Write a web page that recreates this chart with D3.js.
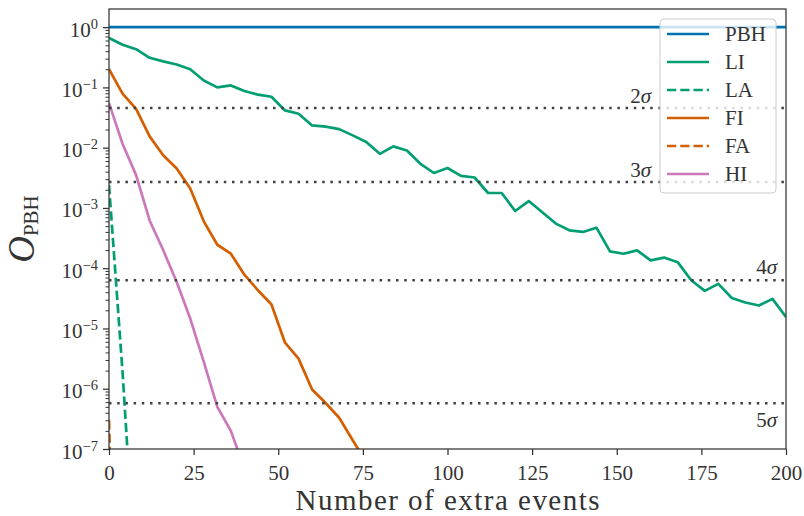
<!DOCTYPE html>
<html>
<head>
<meta charset="utf-8">
<script src="https://cdn.jsdelivr.net/npm/d3@7"></script>
<style>
  body { margin: 0; background: #fff; }
  svg { display: block; }
  svg text { font-family: "Liberation Serif", "DejaVu Serif", serif; }
</style>
</head>
<body>
<div id="chart"></div>
<script>
const events = [0, 4, 8, 12, 16, 20, 24, 28, 32, 36, 40, 44, 48, 52, 56, 60, 64, 68, 72, 76,
  80, 84, 88, 92, 96, 100, 104, 108, 112, 116, 120, 124, 128, 132, 136, 140, 144, 148, 152, 156,
  160, 164, 168, 172, 176, 180, 184, 188, 192, 196, 200];

const pbhEvents = [0, 200];
const pbh = [1, 1];

const li = [0.66, 0.51, 0.43, 0.31, 0.27, 0.24, 0.20, 0.13, 0.10, 0.108,
  0.087, 0.076, 0.070, 0.0415, 0.0366, 0.0234, 0.0223, 0.0203, 0.016, 0.0124,
  0.0079, 0.0105, 0.0090, 0.0054, 0.0038, 0.0046, 0.0034, 0.0032, 0.00177, 0.00177,
  0.00089, 0.0013, 0.00085, 0.00055, 0.000425, 0.00040, 0.00047, 0.00019, 0.000174, 0.000198,
  0.000135, 0.00015, 0.000126, 0.000063, 0.000042, 0.000055, 0.000032, 0.000027, 0.000024, 0.000031,
  0.0000155];

const la = [2.4e-3, 1.9e-6, 5e-10];

const fi = [0.20, 0.079, 0.044, 0.0154, 0.0075, 0.0045, 0.0021, 6.0e-4, 2.45e-4, 1.74e-4,
  7.8e-5, 4.3e-5, 2.5e-5, 5.8e-6, 3.16e-6, 9.7e-7, 5.8e-7, 3.3e-7, 1.4e-7, 6e-8];

const fa = [3e-7, 1e-15];

const hi = [0.055, 0.0116, 0.0035, 6.2e-4, 2.0e-4, 5.9e-5, 1.46e-5, 2.8e-6, 5.0e-7, 2.0e-7, 4.7e-8];

// significance thresholds (two-sided p-values)
const sigmaNames = ["2", "3", "4", "5"];
const sigmaP = [0.0455, 0.0027, 6.334e-5, 5.733e-7];

const xTicks = [0, 25, 50, 75, 100, 125, 150, 175, 200];
const yPowers = [-7, -6, -5, -4, -3, -2, -1, 0];

const series = [
  { name: "PBH", x: pbhEvents, y: pbh, color: "#0173b2", dash: null },
  { name: "LI", x: events, y: li, color: "#029e73", dash: null },
  { name: "LA", x: events, y: la, color: "#029e73", dash: "9.25,4" },
  { name: "FI", x: events, y: fi, color: "#d55e00", dash: null },
  { name: "FA", x: events, y: fa, color: "#d55e00", dash: "9.25,4" },
  { name: "HI", x: events, y: hi, color: "#cc78bc", dash: null }
];

var width = 804;
var height = 516;
var margins = { top: 9, bottom: 67, left: 109, right: 18 };
var axisColor = "#333";
var serif = "Liberation Serif, DejaVu Serif, serif";

const svg = d3.select("#chart")
  .append("svg")
  .attr("width", width)
  .attr("height", height)
  .attr("font-family", serif);

const x = d3.scaleLinear()
  .domain([0, 200])
  .range([margins.left, width - margins.right]);

const y = d3.scaleLog()
  .domain([1e-7, 2])
  .range([height - margins.bottom, margins.top]);

svg.append("clipPath").attr("id", "plot")
  .append("rect")
  .attr("x", x(0)).attr("y", y(2))
  .attr("width", x(200) - x(0)).attr("height", y(1e-7) - y(2));

// curves
const line = d3.line()
  .x(d => x(d[0]))
  .y(d => y(d[1]));

const curves = svg.append("g").attr("clip-path", "url(#plot)");
series.forEach(s => {
  curves.append("path")
    .datum(s.y.map((v, i) => [s.x[i], v]))
    .attr("d", line)
    .attr("fill", "none")
    .attr("stroke", s.color)
    .attr("stroke-width", 2.7)
    .attr("stroke-dasharray", s.dash)
    .attr("stroke-linejoin", "round");
});

// sigma lines
const sig = svg.append("g");
sigmaP.forEach((p, i) => {
  sig.append("line")
    .attr("x1", x(0)).attr("x2", x(200))
    .attr("y1", y(p)).attr("y2", y(p))
    .attr("stroke", "#404040")
    .attr("stroke-width", 2.5)
    .attr("stroke-dasharray", "2.5,5.7");
});
// label positions follow the picture: 2,3 left of legend, 4 above, 5 below
const sigLabelX = [651, 651, 777, 777];
const sigLabelDy = [-5, -5, -6, 23.5];
sigmaP.forEach((p, i) => {
  const t = sig.append("text")
    .attr("x", sigLabelX[i])
    .attr("y", y(p) + sigLabelDy[i])
    .attr("text-anchor", "end")
    .attr("font-family", serif)
    .attr("font-size", 21)
    .attr("fill", "#333");
  t.append("tspan").text(sigmaNames[i]);
  t.append("tspan").attr("font-style", "italic").text("σ");
});

// axes
const xAxis = svg.append("g")
  .attr("transform", `translate(0, ${y(1e-7)})`)
  .call(d3.axisBottom(x).tickValues(xTicks).tickSize(6).tickPadding(5))
  .attr("font-family", serif);
xAxis.select(".domain").remove();
xAxis.selectAll("line").attr("stroke", axisColor).attr("stroke-width", 1.25);
xAxis.selectAll("text")
  .attr("font-family", serif)
  .attr("font-size", 21)
  .attr("fill", "#333")
  .attr("dy", null)
  .attr("y", 31);

const majors = yPowers.map(k => Math.pow(10, k));
const minors = y.ticks().filter(v => v < 2 && !majors.some(m => Math.abs(m - v) / m < 1e-9));

const yMinor = svg.append("g")
  .attr("transform", `translate(${x(0)}, 0)`)
  .call(d3.axisLeft(y).tickValues(minors).tickSize(3.5).tickFormat(""));
yMinor.select(".domain").remove();
yMinor.selectAll("line").attr("stroke", axisColor).attr("stroke-width", 1);

const yMajor = svg.append("g")
  .attr("transform", `translate(${x(0)}, 0)`)
  .call(d3.axisLeft(y).tickValues(majors).tickSize(6).tickFormat(""));
yMajor.select(".domain").remove();
yMajor.selectAll("line").attr("stroke", axisColor).attr("stroke-width", 1.25);

yPowers.forEach(k => {
  const t = svg.append("text")
    .attr("x", 98)
    .attr("y", y(Math.pow(10, k)) + 9.5)
    .attr("text-anchor", "end")
    .attr("font-family", serif)
    .attr("font-size", 21)
    .attr("fill", "#333");
  t.append("tspan").text("10");
  t.append("tspan")
    .attr("font-size", 14.5)
    .attr("dy", -8)
    .text(k === 0 ? "0" : "\u2212" + (-k));
});

// frame
svg.append("rect")
  .attr("x", x(0)).attr("y", y(2))
  .attr("width", x(200) - x(0)).attr("height", y(1e-7) - y(2))
  .attr("fill", "none")
  .attr("stroke", axisColor)
  .attr("stroke-width", 1.25);

// axis titles
svg.append("text")
  .attr("x", (x(0) + x(200)) / 2)
  .attr("y", 510)
  .attr("text-anchor", "middle")
  .attr("font-family", serif)
  .attr("font-size", 29)
  .attr("fill", "#333")
  .attr("textLength", 304)
  .attr("lengthAdjust", "spacing")
  .text("Number of extra events");

const yTitle = svg.append("text")
  .attr("transform", `translate(34, ${(y(2) + y(1e-7)) / 2}) rotate(-90)`)
  .attr("text-anchor", "middle")
  .attr("font-family", serif)
  .attr("fill", "#333");
yTitle.append("tspan")
  .attr("font-size", 37)
  .attr("font-style", "italic")
  .text("O");
yTitle.append("tspan")
  .attr("font-size", 21)
  .attr("dy", 4)
  .text("PBH");

// legend
const legend = svg.append("g");
legend.append("rect")
  .attr("x", 660).attr("y", 19)
  .attr("width", 116).attr("height", 174)
  .attr("rx", 4)
  .attr("fill", "#fff")
  .attr("fill-opacity", 0.8)
  .attr("stroke", "#ccc")
  .attr("stroke-width", 1);

series.forEach((s, i) => {
  const ly = 34 + i * 28;
  legend.append("line")
    .attr("x1", 667).attr("x2", 709)
    .attr("y1", ly).attr("y2", ly)
    .attr("stroke", s.color)
    .attr("stroke-width", 2.7)
    .attr("stroke-dasharray", s.dash);
  legend.append("text")
    .attr("x", 725)
    .attr("y", ly + 7)
    .attr("font-family", serif)
    .attr("font-size", 21)
    .attr("fill", "#333")
    .text(s.name);
});
</script>
</body>
</html>
